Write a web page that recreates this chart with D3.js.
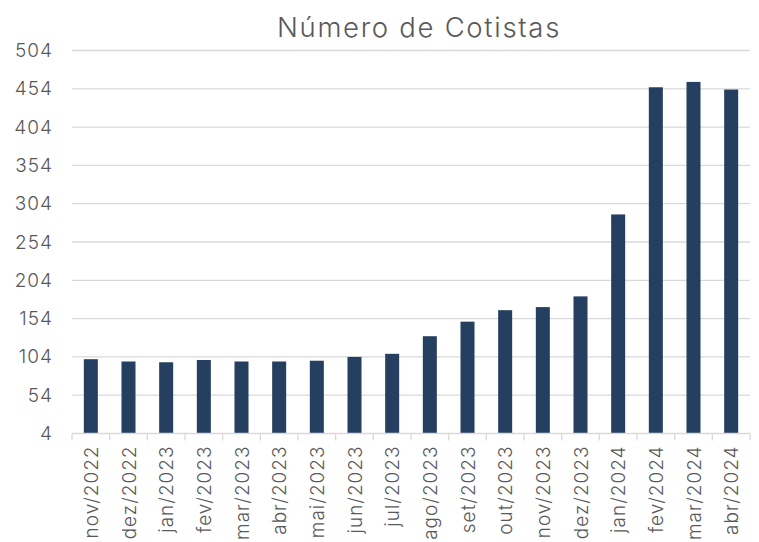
<!DOCTYPE html>
<html><head><meta charset="utf-8">
<script src="https://cdn.jsdelivr.net/npm/d3@7"></script>
<style>body{margin:0;background:#fff}svg{display:block}</style>
</head><body>
<script>
const categories = ["nov/2022","dez/2022","jan/2023","fev/2023","mar/2023","abr/2023","mai/2023","jun/2023","jul/2023","ago/2023","set/2023","out/2023","nov/2023","dez/2023","jan/2024","fev/2024","mar/2024","abr/2024"];
const cotistas = [101,98,97,100,98,98,99,104,108,131,150,165,169,183,290,456,463,453];
const yTicks = [4,54,104,154,204,254,304,354,404,454,504];
const title = "Número de Cotistas";

const W = 759, H = 542;
const m = {left:72, right:9, top:50.5, bottom:108.5};
const svg = d3.select("body").append("svg").attr("width",W).attr("height",H);
const font = "Inter, 'Open Sans', sans-serif";
const grey = "#595959";

const x = d3.scaleBand().domain(categories).range([m.left, W-m.right]).paddingInner(0.628).paddingOuter(0.314);
const y = d3.scaleLinear().domain([4,504]).range([H-m.bottom, m.top]);

svg.append("g").selectAll("line").data(yTicks.slice(1)).join("line")
  .attr("x1",m.left).attr("x2",W-m.right)
  .attr("y1",d=>y(d)).attr("y2",d=>y(d))
  .attr("stroke","#d9d9d9").attr("stroke-width",1.3);

const yAxis = svg.append("g").attr("transform",`translate(${m.left},0)`)
  .call(d3.axisLeft(y).tickValues(yTicks).tickSize(0).tickPadding(19));
yAxis.select(".domain").remove();
yAxis.selectAll("text").attr("font-family",font).attr("font-weight",300).attr("font-size",19)
  .attr("letter-spacing",1).attr("fill",grey);

svg.append("g").selectAll("rect").data(categories).join("rect")
  .attr("x",d=>x(d)).attr("width",x.bandwidth())
  .attr("y",(d,i)=>y(cotistas[i])).attr("height",(d,i)=>y(4)-y(cotistas[i]))
  .attr("fill","#253f60");

const step = x.step();
const xg = svg.append("g").attr("transform",`translate(0,${y(4)})`);
xg.append("line").attr("x1",m.left).attr("x2",W-m.right).attr("stroke","#d9d9d9").attr("stroke-width",1.3);
xg.selectAll("line.tk").data(d3.range(categories.length+1)).join("line").attr("class","tk")
  .attr("x1",i=>m.left+i*step).attr("x2",i=>m.left+i*step)
  .attr("y1",0).attr("y2",7).attr("stroke","#d9d9d9").attr("stroke-width",1.3);
xg.selectAll("text").data(categories).join("text")
  .attr("transform",d=>`translate(${x(d)+x.bandwidth()/2+7},12) rotate(-90)`)
  .attr("text-anchor","end")
  .attr("font-family",font).attr("font-weight",300).attr("font-size",19)
  .attr("letter-spacing",1).attr("fill",grey)
  .text(d=>d);

svg.append("text").attr("x",419).attr("y",37).attr("text-anchor","middle")
  .attr("font-family",font).attr("font-weight",300).attr("font-size",27.5)
  .attr("letter-spacing",1.7).attr("fill",grey)
  .text(title);
</script>
</body></html>
